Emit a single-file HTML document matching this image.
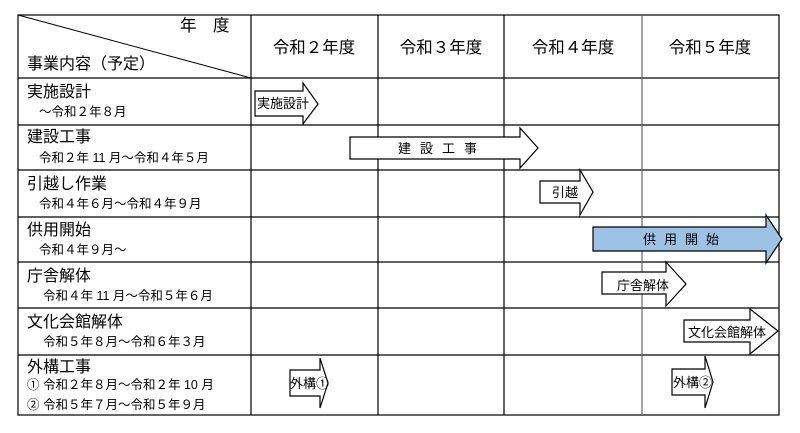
<!DOCTYPE html>
<html><head><meta charset="utf-8"><style>
html,body{margin:0;padding:0;background:#fff;}
svg text{font-family:"Liberation Sans","Noto Sans CJK JP",sans-serif;fill:#000;}
</style></head><body>
<svg width="800" height="428" viewBox="0 0 800 428" xmlns="http://www.w3.org/2000/svg">
<rect x="0" y="0" width="800" height="428" fill="#fff"/>
<g stroke="#000" stroke-width="1.2" fill="none">
<rect x="18" y="15" width="761" height="400"/>
<line x1="18" y1="78" x2="779" y2="78"/>
<line x1="18" y1="125" x2="779" y2="125"/>
<line x1="18" y1="170" x2="779" y2="170"/>
<line x1="18" y1="217" x2="779" y2="217"/>
<line x1="18" y1="262" x2="779" y2="262"/>
<line x1="18" y1="308" x2="779" y2="308"/>
<line x1="18" y1="355" x2="779" y2="355"/>
<line x1="251" y1="15" x2="251" y2="415"/>
<line x1="378" y1="15" x2="378" y2="415"/>
<line x1="504" y1="15" x2="504" y2="415"/>
<line x1="642" y1="15" x2="642" y2="415" stroke="#666"/>
<line x1="18" y1="15" x2="251" y2="78" stroke-width="1"/>
</g>
<g font-size="16.5">
<text x="180" y="31">年　度</text>
<text x="314" y="53" text-anchor="middle">令和２年度</text>
<text x="441" y="53" text-anchor="middle">令和３年度</text>
<text x="573" y="53" text-anchor="middle">令和４年度</text>
<text x="710" y="53" text-anchor="middle">令和５年度</text>
</g>
<g font-size="16">
<text x="27" y="69">事業内容（予定）</text>
<text x="27" y="97">実施設計</text>
<text x="27" y="142">建設工事</text>
<text x="27" y="189">引越し作業</text>
<text x="27" y="235">供用開始</text>
<text x="27" y="281">庁舎解体</text>
<text x="27" y="327">文化会館解体</text>
<text x="27" y="372">外構工事</text>
</g>
<g font-size="12.5">
<text x="39" y="116">～令和２年８月</text>
<text x="39" y="162">令和２年 11 月～令和４年５月</text>
<text x="39" y="208">令和４年６月～令和４年９月</text>
<text x="39" y="254">令和４年９月～</text>
<text x="43" y="300">令和４年 11 月～令和５年６月</text>
<text x="43" y="346">令和５年８月～令和６年３月</text>
<text x="27" y="389">①  令和２年８月～令和２年 10 月</text>
<text x="27" y="409">②  令和５年７月～令和５年９月</text>
</g>
<g stroke="#000" stroke-width="1.2" fill="#fff">
<polygon points="255,91 303,91 303,83 318,104 303,124 303,116 255,116"/>
<polygon points="350,137 520,137 520,128 538,148 520,168 520,159 350,159"/>
<polygon points="540,181 580,181 580,170 593,192 580,215 580,203 540,203"/>
<polygon points="593,227 766,227 766,215 782,239 766,263 766,251 593,251" fill="#9cc2e5"/>
<polygon points="602,272 666,272 666,262 686,284 666,306 666,294 602,294"/>
<polygon points="684,320 750,320 750,309 778,331 750,354 750,342 684,342"/>
<polygon points="672,369 705,369 705,356 713,382 705,408 705,395 672,395"/>
<polygon points="290,370 320,370 320,358 328,383 320,408 320,396 290,396"/>
</g>
<g font-size="13">
<text x="257" y="108">実施設計</text>
<text x="442" y="153" text-anchor="middle" letter-spacing="9">建設工事</text>
<text x="552" y="197">引越</text>
<text x="685" y="244" text-anchor="middle" letter-spacing="8">供用開始</text>
<text x="617" y="290">庁舎解体</text>
<text x="688" y="337">文化会館解体</text>
<text x="673" y="387">外構②</text>
<text x="290" y="388">外構①</text>
</g>
</svg>
</body></html>
